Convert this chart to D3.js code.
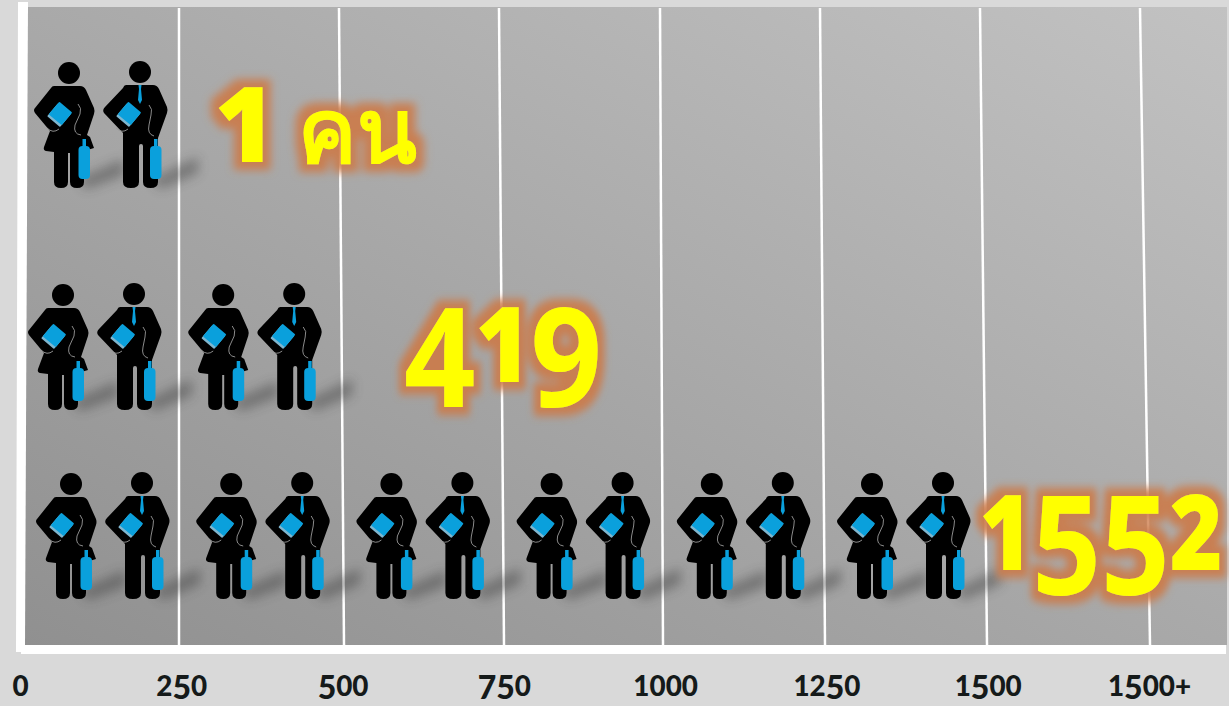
<!DOCTYPE html>
<html>
<head>
<meta charset="utf-8">
<script src="https://cdn.jsdelivr.net/npm/d3@7"></script>
<style>
html,body{margin:0;padding:0;background:#d9d9d9;overflow:hidden;}
svg{display:block;}
.tick text{font-family:Lato,"Open Sans",sans-serif;fill:#151a1a;}
.big{font-family:"Open Sans","Noto Sans",sans-serif;font-weight:700;fill:#ffff00;}
</style>
</head>
<body>
<script>
var tickValues = [0,250,500,750,1000,1250,1500,1750];
var tickLabels = ["0","250","500","750","1000","1250","1500","1500+"];
var rowNames = ["1 คน","419","1552"];
var rowPairs = [1,2,6];   // each pair of figures stands for 250 people

var width = 1229, height = 706;

var xTop = d3.scaleLinear().domain(tickValues).range([28,179,339,499,660,820,980,1140]);
var xBottom = d3.scaleLinear().domain(tickValues).range([25,179,344,504,663,825,987,1150]);
var xLabel = d3.scalePoint().domain(tickLabels).range([20,1149]);
var pairStep = d3.scaleLinear().domain([0,1]).range([0,160.2]);
var rowX = d3.scaleOrdinal().domain(rowNames).range([20,14,22]);
var rowY = d3.scaleOrdinal().domain(rowNames).range([51,273,462]);

var svg = d3.select("body").append("svg").attr("width",width).attr("height",height);
var defs = svg.append("defs");

var grad = defs.append("linearGradient").attr("id","panel")
    .attr("x1","1").attr("y1","0").attr("x2","0").attr("y2","1");
grad.append("stop").attr("offset","0").attr("stop-color","#c2c2c2");
grad.append("stop").attr("offset","1").attr("stop-color","#909090");

defs.append("filter").attr("id","soft").attr("x","-60%").attr("y","-100%").attr("width","220%").attr("height","300%")
    .append("feGaussianBlur").attr("stdDeviation","6");

var glow = defs.append("filter").attr("id","glow").attr("x","-20%").attr("y","-30%").attr("width","140%").attr("height","160%");
glow.append("feMorphology").attr("in","SourceAlpha").attr("operator","dilate").attr("radius","8").attr("result","fat");
glow.append("feGaussianBlur").attr("in","fat").attr("stdDeviation","4").attr("result","blur");
glow.append("feFlood").attr("flood-color","#cc7a48").attr("flood-opacity","0.9").attr("result","col");
glow.append("feComposite").attr("in","col").attr("in2","blur").attr("operator","in").attr("result","halo");
var merge = glow.append("feMerge");
merge.append("feMergeNode").attr("in","halo");
merge.append("feMergeNode").attr("in","SourceGraphic");

// figure pair, drawn once and reused
var pair = defs.append("g").attr("id","pair");
var shadow = defs.append("g").attr("id","pairShadow");
shadow.selectAll("path").data(["M58,128 L104,108 L104,124 L66,138Z","M132,128 L178,106 L178,122 L140,138Z"])
    .enter().append("path").attr("d",function(d){return d;}).attr("fill","#333").attr("opacity",0.42).attr("filter","url(#soft)");

var bodies = [
  "M34,35 L60,35 Q64,35 66,39 L74,57 Q75,60 74,63 L67,84 L70,86 L74,97 L64,100 L64,131 Q64,137 57,137 Q50,137 50,131 L50,102 L48,102 L48,131 Q48,137 41,137 Q34,137 34,131 L34,101 L26,100 Q23,99 24,96 L30,80 L15,62 Q13,59 15,57 L31,37 Q32,35 34,35Z",
  "M106,34 L133,34 Q137,34 139,38 L147,56 Q148,59 147,62 L138,87 L138,131 Q138,137 130.500,137 Q123,137 123,131 L123,95 Q123,93 121,93 Q119,93 119,95 L119,131 Q119,137 111,137 Q103,137 103,131 L103,82 L84,62 Q82,59 85,56 L103,37 Q104,34 106,34Z"
];
pair.selectAll("path.body").data(bodies).enter().append("path").attr("class","body")
    .attr("d",function(d){return d;}).attr("fill","#000");
pair.selectAll("circle").data([[49,22],[120,21]]).enter().append("circle")
    .attr("cx",function(d){return d[0];}).attr("cy",function(d){return d[1];}).attr("r",11).attr("fill","#000");
pair.selectAll("path.line").data([
    "M58,53 Q62,57 60,63 L55,74 Q53,83 61,84",
    "M129,54 Q133,58 131,64 L129,74 Q127,83 134,85",
    "M27,77 Q33,83 39,78",
    "M96,77 Q102,83 108,78"
  ]).enter().append("path").attr("class","line").attr("d",function(d){return d;})
    .attr("fill","none").attr("stroke","#9a9a9a").attr("stroke-width",0.9);
pair.selectAll("g.book").data([[40,63],[109,63]]).enter().append("g").attr("class","book")
    .attr("transform",function(d){return "translate("+d[0]+","+d[1]+") rotate(40)";})
    .each(function(){
      d3.select(this).append("rect").attr("x",-8.500).attr("y",-7).attr("width",17).attr("height",17).attr("fill","#7fb6cf").attr("rx",1);
      d3.select(this).append("rect").attr("x",-8.500).attr("y",-9).attr("width",17).attr("height",16.500).attr("fill","#0aa0dc").attr("rx",1);
    });
pair.selectAll("rect.bag").data([58.500,130]).enter().append("rect").attr("class","bag")
    .attr("x",function(d){return d;}).attr("y",95).attr("width",11.500).attr("height",33).attr("rx",4).attr("fill","#0aa0dc");
pair.selectAll("rect.neck").data([62.500,134]).enter().append("rect").attr("class","neck")
    .attr("x",function(d){return d;}).attr("y",88).attr("width",3.500).attr("height",9).attr("fill","#0aa0dc");
pair.append("path").attr("d","M118.500,34 L121.500,34 L121,38 L122,49 L120,53 L118,49 L119,38Z").attr("fill","#0aa0dc");

// page frame
svg.append("polygon").attr("points","18,2 28,2 26,645 1226,645 1226,654 21,654 21,652 16,652").attr("fill","#fff");
svg.append("polygon").attr("points",[[xTop(0),7],[1227,7],[1227,645],[xBottom(0),645]].join(" ")).attr("fill","url(#panel)");

svg.append("g").selectAll("line")
    .data(tickValues.slice(1))
    .enter().append("line")
        .attr("x1",function(d){return xTop(d);})
        .attr("y1",8)
        .attr("x2",function(d){return xBottom(d);})
        .attr("y2",645)
        .attr("stroke","#fff")
        .attr("stroke-width",2.500);

// expand rows to one entry per pair
var pairs = [];
rowNames.forEach(function(name,r){
  d3.range(rowPairs[r]).forEach(function(i){ pairs.push({row:name,i:i}); });
});
function place(d){ return "translate("+(rowX(d.row)+pairStep(d.i))+","+rowY(d.row)+")"; }

svg.append("g").selectAll("use").data(pairs).enter().append("use")
    .attr("href","#pairShadow").attr("transform",place);
svg.append("g").selectAll("use").data(pairs).enter().append("use")
    .attr("href","#pair").attr("transform",place);

// no installed font has old-style figures, so set them digit by digit:
// 0 1 2 are short and heavier, 3 4 5 7 9 hang below the baseline
function oldStyle(sel,size,ratio,shortWeight,tallWeight,otherRatio){
  sel.each(function(){
    var el = d3.select(this), label = el.text(), shift = 0;
    el.text(null);
    (label.match(/\d|\D+/g)||[]).forEach(function(part){
      var s = size, drop = 0, w = tallWeight;
      if ("012".indexOf(part)>=0) { s = size*ratio; w = shortWeight; }
      else if ("34579".indexOf(part)>=0) drop = size*0.72*(1-ratio);
      else if (!/\d/.test(part)) s = size*otherRatio;
      el.append("tspan").attr("font-size",s).attr("font-weight",w).attr("dy",drop-shift).text(part);
      shift = drop;
    });
  });
}

// big counts
var bigX = d3.scaleOrdinal().domain(rowNames).range([316,503,1101]);
var bigY = d3.scaleOrdinal().domain(rowNames).range([162,382,570]);
var bigStretch = d3.scaleOrdinal().domain(rowNames).range([1,0.9,0.865]);
svg.append("g").selectAll("text").data(rowNames).enter().append("text")
    .attr("class","big")
    .attr("transform",function(d){return "translate("+bigX(d)+","+bigY(d)+") scale("+bigStretch(d)+",1)";})
    .attr("text-anchor","middle")
    .attr("filter","url(#glow)")
    .text(function(d){return d;})
    .each(function(){ oldStyle(d3.select(this),139,0.75,800,700,0.63); });

// axis
var axis = d3.axisBottom(xLabel).tickSize(0);
var gAxis = svg.append("g").attr("transform","translate(0,667)").call(axis);
gAxis.select(".domain").remove();
gAxis.selectAll("text").attr("y",28.500).attr("dy",null).call(oldStyle,32,0.87,900,900,0.87);
</script>
</body>
</html>
